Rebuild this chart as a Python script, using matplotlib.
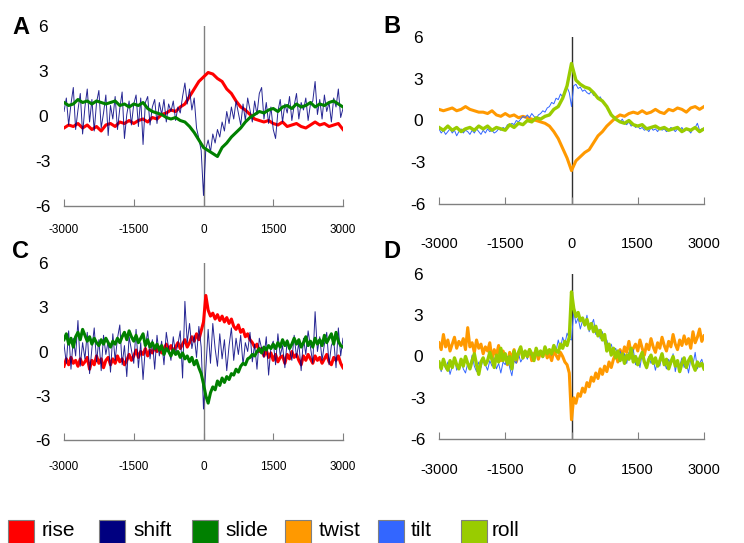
import numpy as np
import matplotlib
matplotlib.use("Agg")
from matplotlib import pyplot as plt
from matplotlib.patches import Rectangle

plt.rcParams['font.family'] = ['Liberation Sans', 'DejaVu Sans']

W, H = 744, 543

# positions along the sequence (bp)
x50 = np.arange(-3000, 3001, 50)
x100 = np.arange(-3000, 3001, 100)
xticks = [-3000, -1500, 0, 1500, 3000]
yticks = [-6, -3, 0, 3, 6]

# ---- panel A ----
rise_a = [-0.8, -0.6, -0.7, -0.5, -0.8, -0.6, -0.9, -0.7, -1.0, -0.6,
          -0.5, -0.7, -0.4, -0.5, -0.3, -0.5, -0.3, -0.2, -0.4, -0.1,
          -0.2, 0.1, 0.2, 0.4, 0.3, 0.6, 0.8, 1.3, 1.8, 2.3,
          2.6,
          2.9, 2.8, 2.5, 2.3, 1.8, 1.5, 1.0, 0.6, 0.4, 0.1,
          -0.2, -0.3, -0.4, -0.3, -0.5, -0.6, -0.4, -0.7, -0.6, -0.5,
          -0.7, -0.8, -0.6, -0.4, -0.6, -0.5, -0.7, -0.6, -0.5, -0.9]
slide_a = [0.9, 0.7, 0.8, 1.1, 0.9, 1.0, 0.8, 1.0, 0.9, 0.8,
           0.9, 1.0, 0.7, 0.8, 0.6, 0.8, 0.7, 0.9, 0.5, 0.3,
           0.2, 0.1, -0.1, -0.2, -0.1, -0.3, -0.4, -0.7, -1.1, -1.6,
           -2.1,
           -2.3, -2.5, -2.7, -2.1, -1.8, -1.4, -1.1, -0.8, -0.4, -0.1,
           0.1, 0.3, 0.2, 0.4, 0.5, 0.3, 0.6, 0.7, 0.5, 0.8,
           0.6, 0.7, 0.9, 0.6, 0.8, 0.7, 0.9, 1.0, 0.8, 0.6]
shift_a = [0.3, 1.2, -0.6, 0.8, 1.9, -0.9, 0.4, 1.5, -1.2, 0.6,
           1.8, -0.4, 1.1, -1.0, 0.9, 1.7, -0.8, 0.2, 1.4, -1.3,
           0.7, -0.2, 1.3, -0.9, 0.5, 1.6, -1.5, 0.1, 1.0, -0.6,
           0.8, 1.4, -0.7, 1.2, -1.9, 0.9, 1.3, -0.6, 0.6, 1.1,
           -0.5, 0.9, 0.1, 1.1, -0.4, 0.8, 0.3, 1.0, -0.3, 0.6,
           0.2, 1.3, 2.2, 0.8, 1.8, 0.4, 1.2, -0.8, -1.5, -2.3,
           -5.3, -2.2, -1.6, -2.4, -1.2, -1.8, -0.9, -1.4, -0.4, -1.0,
           0.3, -0.5, 0.6, -0.2, 1.0, 0.2, -0.6, 0.8, -0.3, 1.2,
           0.4, -0.4, 1.0, 0.1, 1.5, 1.9, -0.2, 0.9, -0.5, 0.6,
           -0.9, -1.5, 0.3, 1.1, -0.4, 0.8, 0.2, 1.3, -0.3, 0.7,
           1.5, -0.2, 0.9, 0.4, 1.2, -0.3, 0.8, 1.0, 2.3, 0.1,
           1.1, -0.2, 1.4, 0.3, 0.9, -0.4, 1.2, 0.6, 1.8, -0.1,
           0.5]

# ---- panel B ----
twist_b = [0.8, 0.7, 0.8, 0.9, 0.7, 0.8, 1.0, 0.8, 0.7, 0.6,
           0.6, 0.5, 0.7, 0.4, 0.3, 0.5, 0.3, 0.4, 0.2, 0.3,
           0.2, 0.1, 0.0, -0.1, -0.2, -0.4, -0.8, -1.3, -2.0, -2.7,
           -3.6,
           -2.9, -2.6, -2.3, -2.1, -1.6, -1.1, -0.8, -0.4, -0.1, 0.2,
           0.4, 0.3, 0.5, 0.6, 0.5, 0.7, 0.5, 0.6, 0.8, 0.6,
           0.5, 0.8, 0.7, 0.9, 0.8, 0.6, 0.9, 1.0, 0.8, 1.0]
roll_b = [-0.5, -0.7, -0.4, -0.7, -0.5, -0.8, -0.6, -0.5, -0.7, -0.4,
          -0.6, -0.4, -0.7, -0.5, -0.6, -0.7, -0.3, -0.5, -0.2, -0.3,
          0.0, -0.1, 0.2, 0.1, 0.3, 0.4, 0.8, 1.0, 1.6, 2.5,
          4.1,
          2.9, 2.6, 2.4, 2.3, 2.0, 1.6, 1.4, 1.0, 0.4, 0.1,
          -0.1, -0.2, 0.0, -0.3, -0.4, -0.3, -0.6, -0.5, -0.4, -0.6,
          -0.5, -0.7, -0.6, -0.5, -0.8, -0.6, -0.7, -0.5, -0.8, -0.6]
tilt_b = [-0.6, -0.9, -0.7, -1.0, -0.8, -0.6, -0.9, -0.7, -1.1, -0.8,
          -0.6, -0.9, -0.7, -0.8, -1.0, -0.7, -0.9, -0.6, -0.8, -1.0,
          -0.7, -0.9, -0.6, -0.8, -0.7, -0.9, -0.8, -0.6, -0.7, -0.5,
          -0.6, -0.3, -0.4, -0.2, -0.3, 0.0, -0.1, 0.1, 0.3, 0.2,
          0.4, 0.2, 0.5, 0.3, 0.1, 0.4, 0.5, 0.7, 0.6, 0.9,
          1.0, 1.3, 1.2, 1.6, 1.5, 1.9, 1.7, 2.2, 2.4, 2.0,
          1.0, 2.5, 2.6, 2.3, 2.4, 2.1, 2.2, 2.0, 1.9, 2.1,
          1.8, 1.9, 1.6, 1.7, 1.4, 1.2, 1.0, 0.7, 0.5, 0.3,
          0.2, 0.0, -0.1, 0.1, -0.2, -0.3, -0.1, -0.4, -0.3, -0.5,
          -0.4, -0.6, -0.5, -0.7, -0.6, -0.8, -0.5, -0.7, -0.6, -0.8,
          -0.5, -0.7, -0.6, -0.8, -0.7, -0.5, -0.6, -0.8, -0.6, -0.7,
          -0.5, -0.8, -0.6, -0.7, -0.9, -0.6, -0.5, -0.2, -0.7, -0.6,
          -0.7]

# ---- panel C ----
rise_c = [-1.0, -0.5, -0.9, -0.4, -0.8, -0.6, -1.0, -0.5, -0.9, -0.7,
          -0.4, -1.2, -0.6, -0.9, -0.3, -0.8, -0.5, -1.1, -0.6, -0.4,
          -0.9, -0.5, -0.8, -0.3, -0.7, -0.5, -0.9, -0.6, -0.2, -0.6,
          -0.3, 0.1, -0.4, 0.0, -0.2, 0.2, -0.3, 0.1, -0.1, 0.3,
          0.0, 0.3, -0.1, 0.2, 0.5, 0.1, 0.4, 0.0, 0.3, 0.6,
          0.2, 0.5, 0.8, 0.3, 0.6, 1.0, 0.7, 1.2, 0.8, 1.4,
          2.0, 3.8, 2.8, 2.4, 2.6, 2.2, 2.5, 2.1, 2.4, 2.0,
          2.3, 1.9, 2.2, 1.7, 1.5, 1.8, 1.3, 1.5, 1.0, 1.2,
          0.8, 0.6, 0.3, 0.5, 0.0, 0.2, -0.3, 0.1, -0.4, -0.1,
          -0.6, -0.2, -0.7, -0.4, -0.3, -0.8, -0.2, -0.5, 0.0, -0.4,
          -0.2, -0.6, -0.9, -0.3, -0.6, -0.2, -0.5, -0.8, -0.3, -0.6,
          -0.4, -0.8, -0.5, -0.2, -0.7, -0.9, -0.4, -0.6, -0.3, -0.8,
          -1.1]
slide_c = [0.8, 1.2, 0.5, 0.9, 0.3, 1.0, 1.3, 0.8, 1.5, 1.1,
           0.7, 1.0, 0.5, 0.9, 0.6, 0.4, 0.8, 0.5, 0.9, 0.6,
           0.3, 0.7, 0.5, 0.9, 0.6, 1.0, 1.3, 0.8, 1.4, 1.0,
           0.7, 1.1, 0.6, 0.9, 1.2, 0.4, 0.8, 0.3, 0.6, 0.2,
           0.5, 0.1, 0.4, -0.2, 0.2, 0.0, -0.3, 0.1, -0.2, 0.0,
           -0.4, -0.1, -0.5, -0.3, -0.7, -0.4, -0.9, -0.6, -1.1, -1.5,
           -2.2, -3.0, -3.5, -2.8, -2.4, -2.6, -2.0, -2.3, -1.8, -2.1,
           -1.7, -1.9, -1.5, -1.6, -1.2, -1.4, -1.0, -0.8, -0.9, -0.5,
           -0.4, -0.2, -0.3, 0.0, 0.2, -0.1, 0.3, 0.1, 0.4, 0.2,
           0.5, 0.2, 0.6, 0.3, 0.8, 0.4, 0.7, 0.2, 0.5, 0.9,
           0.5, 0.8, 0.3, 0.6, 1.0, 0.4, 0.7, 0.3, 0.9, 0.5,
           0.8, 0.4, 1.1, 0.6, 0.9, 1.2, 0.5, 1.3, 0.7, 0.4,
           0.3]
shift_c = [0.5, -0.8, 1.4, -1.2, 0.9, -0.3, 2.1, -1.0, 0.6, -0.5,
           1.3, -1.5, 0.2, 1.6, -0.7, 0.8, -1.3, 1.1, -0.2, 0.7,
           -1.4, 1.2, -0.6, 0.9, 1.8, -0.9, 0.4, -1.7, 1.0, 0.1,
           -0.8, 1.5, -1.1, 0.6, -1.9, 0.3, 1.4, -0.5, 0.8, -1.2,
           1.1, -0.3, 0.7, -0.9, 1.3, 0.2, -0.6, 1.0, -0.2, 0.5,
           1.4, -1.8, 3.4, 0.6, 1.9, 0.2, 1.1, -0.4, 1.7, 0.3,
           -3.9, -1.2, 1.5, -0.8, 1.9, 0.2, -1.0, 1.2, -0.5, 0.8,
           -1.3, 0.4, 1.6, -0.6, 0.9, -0.2, 1.1, -0.9, 0.6, 0.0,
           1.3, -0.7, 0.5, -1.2, 0.9, 0.2, -0.4, 1.0, -1.6, 0.3,
           0.7, -0.9, 1.2, -0.3, 0.4, -1.1, 0.8, 0.1, -0.6, 1.1,
           -0.4, 0.6, -1.3, 0.9, -0.2, 1.4, 0.3, -0.8, 2.7, 0.0,
           1.0, -0.6, 0.5, 1.3, -0.9, 0.4, 0.8, -1.1, 1.6, -0.3,
           0.9]

# ---- panel D ----
twist_d = [1.0, 0.5, 1.6, 0.7, 1.2, 0.4, 0.9, 1.4, 0.6, 1.1,
           0.8, 1.3, 0.5, 2.1, 0.7, 1.0, 0.3, 1.2, 0.6, 0.9,
           0.2, 0.7, 0.4, 1.0, -0.2, 0.5, 0.1, 0.8, -0.3, 0.4,
           0.0, -0.6, 0.3, -0.2, 0.5, -0.4, 0.2, 0.6, -0.1, 0.3,
           0.0, 0.5, -0.3, 0.2, 0.4, -0.2, 0.3, 0.0, 0.6, -0.1,
           0.2, -0.3, 0.4, 0.1, -0.2, 0.3, 0.0, -0.4, -0.6, -1.2,
           -4.6, -3.0, -3.4, -2.7, -2.9, -2.3, -2.6, -1.9, -2.2, -1.5,
           -1.8, -1.2, -1.6, -0.9, -1.3, -0.7, -1.1, -0.4, -0.8, -0.2,
           0.2, -0.4, 0.5, 0.0, 0.7, 0.3, 1.1, 0.2, 0.6, 0.9,
           0.4, 1.2, 0.6, 0.1, 0.9, 0.5, 1.3, 0.7, 0.3, 1.0,
           0.6, 1.4, 0.8, 0.4, 1.1, 0.7, 1.6, 0.9, 0.5, 1.2,
           0.8, 1.5, 0.9, 1.3, 0.6, 1.8, 1.0, 1.4, 2.0, 1.1,
           1.5]
tilt_d = [-0.5, -1.1, -0.2, -0.9, -0.4, -1.3, -0.7, -0.1, -1.0, -0.6,
          -0.3, -0.9, -1.2, -0.5, -0.8, 0.1, -0.7, -1.1, -0.4, -0.8,
          -0.2, -0.6, -1.0, -0.3, -0.7, -0.1, -0.9, -0.5, -1.2, -0.4,
          -0.6, 0.0, -0.8, -1.4, -0.3, -0.5, 0.2, -0.4, -0.1, 0.3,
          -0.2, 0.4, 0.0, -0.3, 0.5, 0.1, 0.3, -0.1, 0.6, 0.2,
          0.5, 0.1, 0.8, 0.4, 1.2, 0.6, 1.4, 0.9, 1.7, 1.3,
          1.2, 3.3, 2.4, 2.8, 2.0, 2.6, 2.2, 3.0, 1.8, 2.3,
          2.7, 1.6, 2.0, 1.3, 1.8, 0.9, 1.2, 0.5, 0.9, 0.3,
          0.6, 0.1, 0.4, -0.3, 0.2, -0.5, 0.3, -0.2, 0.5, -0.6,
          -0.1, -0.8, 0.2, -0.4, -0.9, 0.0, -0.5, -0.2, -1.0, -0.3,
          -0.7, 0.1, -0.4, -0.9, -0.2, -0.6, 0.2, -1.1, -0.3, -0.7,
          -0.1, -0.8, -0.4, -1.2, -0.2, -0.6, 0.3, -0.9, -0.5, -0.2,
          -0.8]
roll_d = [-0.4, -0.9, -0.2, -0.7, -1.0, -0.3, -0.8, -0.1, -0.6, -0.9,
          -0.2, -0.7, 0.0, -0.5, -0.9, -0.3, 0.2, -0.6, -1.3, -0.4,
          -0.1, -0.6, -0.3, 0.3, -0.2, -0.8, 0.1, -0.4, 0.6, -0.3,
          0.2, -0.5, 0.0, -0.9, 0.4, -0.2, 0.3, 0.7, -0.1, 0.4,
          0.0, 0.5, 0.2, -0.3, 0.6, 0.1, 0.4, 0.0, 0.7, 0.2,
          0.5, 0.2, 0.8, 0.4, 0.3, 0.9, 0.6, 1.1, 0.8, 1.4,
          4.7, 3.5, 2.9, 3.2, 2.6, 2.8, 2.3, 2.7, 2.0, 2.4,
          1.8, 2.2, 1.5, 1.9, 1.2, 1.6, 0.4, 0.9, 0.1, 0.6,
          -0.1, 0.4, -0.3, 0.2, -0.5, 0.1, -0.2, 0.6, -0.4, 0.0,
          -0.6, -0.1, 0.3, -0.4, -0.8, -0.2, 0.1, -0.5, -0.1, -0.7,
          -0.3, 0.2, -0.6, -0.2, -0.9, -0.4, 0.0, -0.7, -0.3, -1.1,
          -0.5, -0.1, -0.8, -0.3, 0.0, -0.6, -1.0, -0.4, -0.7, -0.5,
          -0.9]

colors = {'rise': '#FF0000', 'shift': '#000080', 'slide': '#008000',
          'twist': '#FF9900', 'tilt': '#3366FF', 'roll': '#99CC00'}
legend_names = ['rise', 'shift', 'slide', 'twist', 'tilt', 'roll']

fig = plt.figure(figsize=(W / 100, H / 100), dpi=100)


def make_axes(left, top, right, bottom):
    # pixel box -> figure fraction
    return fig.add_axes([left / W, 1 - bottom / H, (right - left) / W, (bottom - top) / H])


def style_axes(ax, xpad, xsize, vcolor):
    ax.set_xlim(-3000, 3000)
    ax.set_ylim(-6, 6)
    ax.set_xticks(xticks)
    ax.set_yticks(yticks)
    ax.set_xticklabels([str(t) for t in xticks], family=['Liberation Sans Narrow', 'Liberation Sans'],
                       fontsize=xsize)
    ax.set_yticklabels([str(t) for t in yticks], fontsize=12.5)
    for lab in ax.get_yticklabels():
        lab.set_horizontalalignment('center')
    for s in ['top', 'right', 'left']:
        ax.spines[s].set_visible(False)
    ax.spines['bottom'].set_color('#808080')
    ax.spines['bottom'].set_linewidth(1.0)
    ax.tick_params(axis='x', direction='in', length=5, color='#808080', pad=xpad)
    ax.tick_params(axis='y', length=0, pad=15)
    ax.axvline(0, color=vcolor, lw=1.0, zorder=1)
    ax.patch.set_alpha(0)


ax_a = make_axes(64, 26, 343, 206)
ax_b = make_axes(439, 37, 704, 204)
ax_c = make_axes(64, 263, 343, 440)
ax_d = make_axes(439, 274, 704, 439)

ax_a.plot(x100, rise_a, color=colors['rise'], lw=2.2)
ax_a.plot(x50, shift_a, color=colors['shift'], lw=0.7, alpha=0.85)
ax_a.plot(x100, slide_a, color=colors['slide'], lw=2.2)
style_axes(ax_a, 13, 8.5, '#808080')

ax_b.plot(x100, twist_b, color=colors['twist'], lw=2.2)
ax_b.plot(x50, tilt_b, color=colors['tilt'], lw=0.7)
ax_b.plot(x100, roll_b, color=colors['roll'], lw=2.4)
style_axes(ax_b, 24, 10.5, '#303030')

ax_c.plot(x50, rise_c, color=colors['rise'], lw=2.2)
ax_c.plot(x50, shift_c, color=colors['shift'], lw=0.7, alpha=0.85)
ax_c.plot(x50, slide_c, color=colors['slide'], lw=2.2)
style_axes(ax_c, 15, 8.5, '#808080')

ax_d.plot(x50, twist_d, color=colors['twist'], lw=2.2)
ax_d.plot(x50, tilt_d, color=colors['tilt'], lw=0.7)
ax_d.plot(x50, roll_d, color=colors['roll'], lw=2.4)
style_axes(ax_d, 17, 10.5, '#303030')

# panel letters
for letter, px, py in [('A', 12, 34), ('B', 383, 33), ('C', 12, 258), ('D', 383, 258)]:
    fig.text(px / W, 1 - py / H, letter, fontsize=17, fontweight='bold', ha='left', va='baseline')

# legend along the bottom
patch_x = [8, 99, 192, 285, 378, 461]
text_x = [42, 133, 225, 319, 411, 492]
for name, bx, tx in zip(legend_names, patch_x, text_x):
    fig.patches.append(Rectangle((bx / W, 1 - 545 / H), 26 / W, 25 / H, transform=fig.transFigure,
                                 facecolor=colors[name], edgecolor='#808080', lw=0.8))
    fig.text(tx / W, 1 - 531 / H, name, fontsize=15, ha='left', va='center')

fig.savefig('out.png', dpi=100)
